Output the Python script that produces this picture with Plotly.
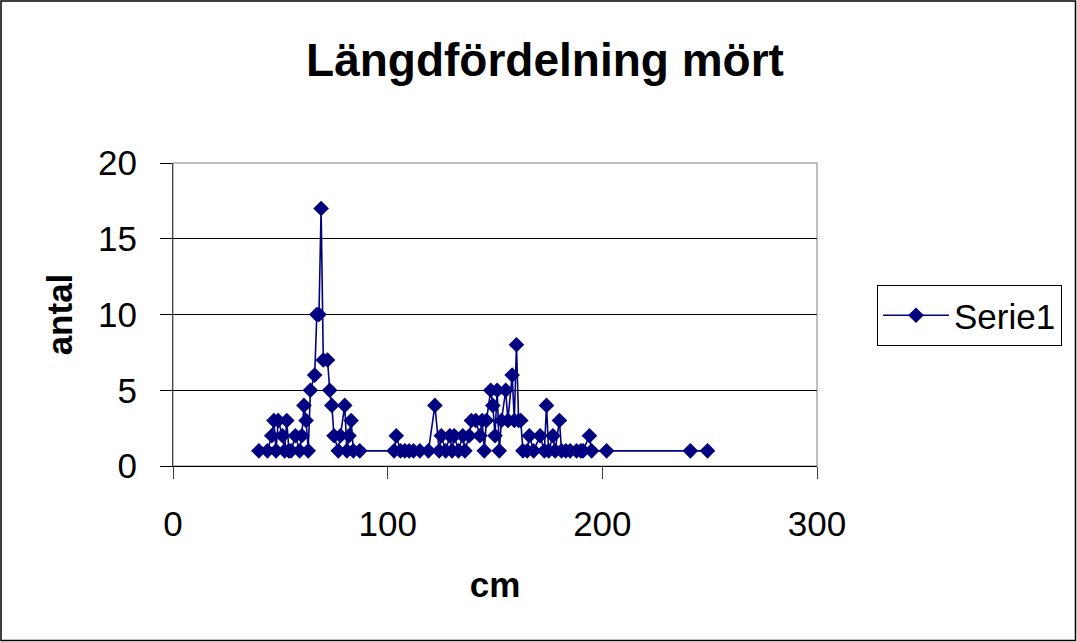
import plotly.graph_objects as go

length_cm = [40, 44, 46, 47, 48, 49, 51, 52, 53, 54, 55, 57, 59, 60, 61, 62, 63, 64, 66, 67, 68, 69, 70, 72, 73,
             74, 75, 77, 78, 80, 81, 82, 83, 84, 87,
             103, 104, 106, 108, 110, 112, 115, 119, 122, 124, 125, 127, 129, 130, 131, 133, 135, 136, 138,
             139, 141, 143, 144, 145, 146, 148, 149, 150, 151, 152, 153, 155, 156, 158, 159, 160, 161, 162, 163,
             165, 166, 168, 171, 173, 174, 175, 177, 178, 180, 181, 183, 185, 188, 190, 191, 194, 195, 202,
             241, 249]
antal = [1, 1, 2, 3, 1, 3, 2, 1, 3, 1, 1, 2, 1, 2, 4, 3, 1, 5, 6, 10, 10, 17, 7, 7, 5,
         4, 2, 1, 2, 4, 1, 2, 3, 1, 1,
         1, 2, 1, 1, 1, 1, 1, 1, 4, 1, 2, 1, 2, 1, 2, 1, 2, 1, 2,
         3, 3, 2, 3, 1, 3, 5, 4, 2, 5, 1, 3, 5, 3, 6, 3, 8, 3, 3, 1,
         1, 2, 1, 2, 1, 4, 1, 2, 1, 3, 1, 1, 1, 1, 1, 1, 2, 1, 1,
         1, 1]

x_ticks = [0, 100, 200, 300]
y_ticks = [0, 5, 10, 15, 20]

navy = "#000080"
font = "Liberation Sans, Arial, sans-serif"

fig = go.Figure()
fig.add_trace(go.Scatter(
    x=length_cm, y=antal, mode="lines+markers", name="Serie1",
    line=dict(color=navy, width=1.6),
    marker=dict(symbol="diamond", size=12, color=navy),
))

W, H = 1077, 642
ml, mr, mt, mb = 173, 260, 163, 176
pw, ph = W - ml - mr, H - mt - mb

fig.update_layout(
    width=W, height=H,
    margin=dict(l=ml, r=mr, t=mt, b=mb),
    paper_bgcolor="white", plot_bgcolor="white",
    font=dict(family=font, size=35, color="black"),
    title=dict(text="<b>Längdfördelning mört</b>", x=545 / W, xanchor="center",
               y=1 - 60 / H, yanchor="middle", font=dict(size=46, family=font)),
    showlegend=True,
    legend=dict(x=(877 - ml) / pw, y=(H - mb - 285) / ph, xanchor="left", yanchor="top",
                bordercolor="black", borderwidth=1, bgcolor="white", itemwidth=66,
                font=dict(size=35, family=font), tracegroupgap=0),
    xaxis=dict(range=[0, 300], tickvals=x_ticks, ticks="outside", ticklen=12, tickcolor="#404040",
               showline=True, linecolor="black", linewidth=1, showgrid=False, zeroline=False,
               ticklabelstandoff=15,
               tickfont=dict(size=35), title=dict(text="<b>cm</b>", standoff=30, font=dict(size=35))),
    yaxis=dict(range=[0, 20], tickvals=y_ticks, ticks="outside", ticklen=12, tickcolor="black",
               showline=True, linecolor="#404040", linewidth=1, showgrid=True, gridcolor="black",
               gridwidth=1, zeroline=False, tickfont=dict(size=35), ticklabelstandoff=16,
               title=dict(text="<b>antal</b>", standoff=14, font=dict(size=35))),
    shapes=[
        dict(type="rect", xref="paper", yref="paper", x0=0, x1=1, y0=0, y1=1,
             line=dict(color="#808080", width=1), layer="below"),
        dict(type="rect", xref="paper", yref="paper",
             x0=-(ml - 1) / pw, x1=1 + (mr - 1.5) / pw, y0=-(mb - 1.5) / ph, y1=1 + (mt - 1) / ph,
             line=dict(color="black", width=1.5)),
    ],
)

fig.write_html("out.html", config={"displayModeBar": False},
               post_script="document.body.style.margin='0';")
